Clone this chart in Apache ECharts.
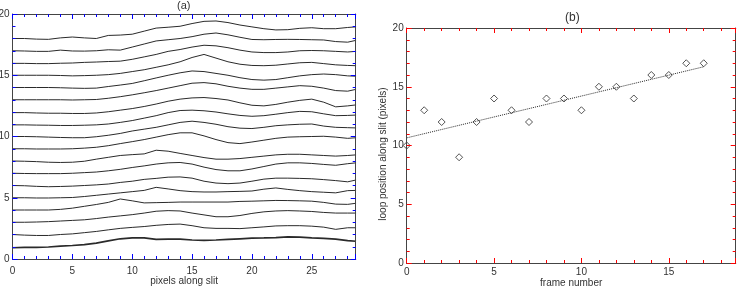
<!DOCTYPE html>
<html>
<head>
<meta charset="utf-8">
<script src="https://cdn.jsdelivr.net/npm/echarts@6.0.0/dist/echarts.min.js"></script>
<style>
html, body { margin: 0; padding: 0; background: #fff; }
#wrap { position: relative; width: 741px; height: 286px; }
#chart-a { position: absolute; left: 0; top: 0; width: 370px; height: 286px; }
#chart-b { position: absolute; left: 370px; top: 0; width: 371px; height: 286px; }
</style>
</head>
<body>
<div id="wrap"><div id="chart-a"></div><div id="chart-b"></div></div>
<script>
// panel (a): intensity profiles along the slit, one per frame, offset by frame
const pixelX = [0,1,2,3,4,5,6,7,8,9,10,11,12,13,14,15,16,17,18,19,20,21,22,23,24,25,26,27,28,28.7];

const prof01 = [0.92,0.95,0.95,0.98,1.05,1.1,1.18,1.3,1.48,1.65,1.72,1.72,1.6,1.62,1.62,1.55,1.52,1.55,1.6,1.65,1.7,1.72,1.75,1.8,1.78,1.72,1.68,1.62,1.5,1.45];
const prof02 = [2.0,1.95,1.92,1.92,2.0,2.05,2.15,2.25,2.38,2.5,2.58,2.65,2.75,2.82,2.85,2.72,2.55,2.5,2.5,2.48,2.55,2.62,2.7,2.72,2.72,2.68,2.6,2.42,2.55,2.55];
const prof03 = [3.0,3.0,3.02,3.05,3.1,3.15,3.2,3.3,3.42,3.52,3.62,3.75,3.9,3.95,3.92,3.75,3.6,3.45,3.45,3.55,3.72,3.85,3.92,3.95,3.92,3.88,3.8,3.75,3.75,3.75];
const prof04 = [4.0,4.0,4.0,4.0,4.05,4.15,4.3,4.45,4.62,4.9,4.75,4.58,4.6,4.62,4.65,4.65,4.65,4.65,4.65,4.7,4.72,4.75,4.78,4.77,4.75,4.72,4.62,4.48,4.46,4.55];
const prof05 = [5.0,5.0,4.98,4.98,5.0,5.02,5.1,5.2,5.3,5.4,5.5,5.6,5.85,5.72,5.58,5.5,5.47,5.47,5.5,5.52,5.55,5.7,5.8,5.68,5.58,5.5,5.45,5.4,5.58,5.6];
const prof06 = [6.0,5.98,5.93,5.9,5.92,5.95,6.0,6.05,6.12,6.25,6.35,6.5,6.58,6.68,6.7,6.6,6.35,6.2,6.15,6.2,6.35,6.52,6.6,6.6,6.58,6.55,6.48,6.4,6.3,6.45];
const prof07 = [7.0,6.98,6.97,6.97,6.97,7.0,7.05,7.1,7.2,7.32,7.47,7.6,7.75,7.85,7.88,7.75,7.5,7.3,7.2,7.2,7.35,7.55,7.75,7.85,7.85,7.8,7.72,7.65,7.78,7.85];
const prof08 = [8.0,7.98,7.95,7.9,7.88,7.9,7.98,8.15,8.3,8.45,8.52,8.58,8.88,8.8,8.62,8.45,8.28,8.15,8.15,8.2,8.3,8.4,8.5,8.55,8.55,8.5,8.45,8.4,8.45,8.5];
const prof09 = [9.0,9.0,8.98,8.98,8.98,9.0,9.05,9.12,9.25,9.42,9.58,9.75,9.95,10.15,10.3,10.3,10.05,9.75,9.5,9.42,9.55,9.7,9.85,9.95,9.98,10.0,10.02,9.95,9.85,9.9];
const prof10 = [10.0,10.0,9.98,9.95,9.92,9.9,9.9,9.98,10.1,10.25,10.45,10.6,10.75,10.95,11.15,11.25,11.15,11.0,10.8,10.68,10.65,10.75,10.88,10.95,11.0,11.02,10.85,10.75,10.72,10.7];
const prof11 = [10.95,10.95,10.93,10.92,10.9,10.9,10.92,10.95,11.02,11.15,11.3,11.5,11.7,11.95,12.12,12.15,12.1,12.0,11.85,11.72,11.65,11.7,11.82,11.95,12.05,12.02,11.85,11.7,11.72,11.75];
const prof12 = [11.95,11.95,11.92,11.9,11.9,11.88,11.88,11.92,12.02,12.15,12.28,12.45,12.65,12.88,13.05,13.15,13.18,13.1,12.98,12.75,12.55,12.5,12.62,12.8,12.95,13.05,12.8,12.42,12.5,12.58];
const prof13 = [13.0,13.0,13.0,13.0,13.0,12.98,13.0,13.02,13.12,13.25,13.4,13.57,13.75,13.95,14.15,14.35,14.4,14.3,14.1,13.95,13.85,13.85,13.95,14.05,14.15,14.1,13.95,13.75,13.7,13.85];
const prof14 = [14.0,14.0,14.0,14.0,13.98,13.95,13.93,13.95,14.08,14.2,14.33,14.55,14.78,15.0,15.2,15.35,15.3,15.15,15.0,14.8,14.65,14.6,14.65,14.8,14.95,15.05,15.1,15.05,14.95,14.92];
const prof15 = [15.0,15.0,15.0,15.0,14.98,14.95,14.97,15.0,15.05,15.15,15.3,15.45,15.65,15.85,16.1,16.45,16.7,16.4,16.1,15.9,15.8,15.78,15.82,15.92,16.02,16.05,15.95,15.85,15.8,15.78];
const prof16 = [15.97,15.97,15.95,15.95,15.98,16.0,16.05,16.08,16.12,16.15,16.3,16.5,16.7,16.95,17.1,17.3,17.45,17.4,17.25,17.05,16.9,16.85,16.85,16.9,17.0,17.02,17.0,16.95,16.9,16.95];
const prof17 = [17.0,16.98,16.95,16.95,17.05,16.98,16.97,17.0,17.08,17.05,17.3,17.55,17.8,17.9,18.0,18.15,18.35,18.45,18.3,18.1,17.92,17.9,17.92,17.93,17.92,17.9,17.88,17.75,17.7,17.85];
const prof18 = [18.0,18.0,17.95,17.93,18.05,18.12,18.05,18.0,18.25,18.28,18.35,18.6,18.85,18.92,19.0,19.22,19.4,19.43,19.3,19.1,18.95,18.8,18.7,18.72,18.83,18.88,18.8,18.8,18.9,18.95];

const profiles = [prof01,prof02,prof03,prof04,prof05,prof06,prof07,prof08,prof09,prof10,
                  prof11,prof12,prof13,prof14,prof15,prof16,prof17,prof18];

// panel (b): loop position per frame and the straight-line fit
const frameNumber = [0,1,2,3,4,5,6,7,8,9,10,11,12,13,14,15,16,17];
const loopPos     = [10,13,12,9,12,14,13,12,14,14,13,15,15,14,16,16,17,17];
const fitX = [0, 17];
const fitY = [10.65, 16.7];

const majorTicks = [0, 5, 10, 15, 20, 25];

const INK = '#2a2a2a';
const AXIS = '#444';
const FONT = 'Liberation Sans';
const nameStyle = { color: '#333', fontFamily: FONT, fontSize: 10 };

// x axes: one axis carries the long ticks every 5, a twin carries the short ones every 1
function xAx(pos, max, step, tickLen, labels, margin, tc, extra) {
    return Object.assign({
        type: 'value', position: pos, min: 0, max: max, interval: step, z: 10,
        axisLine: { show: true, onZero: false, lineStyle: { color: AXIS, width: 1 } },
        axisTick: { show: true, inside: true, length: tickLen, lineStyle: { color: tc, width: 1 } },
        axisLabel: {
            show: labels, color: '#333', fontFamily: FONT, fontSize: 10, margin: margin,
            formatter: function (v) { return majorTicks.indexOf(v) >= 0 ? String(v) : ''; }
        },
        splitLine: { show: false }
    }, extra || {});
}

function yAx(pos, labels, tc, extra) {
    return Object.assign({
        type: 'value', position: pos, min: 0, max: 20, interval: 5, z: 10,
        axisLine: { show: true, onZero: false, lineStyle: { color: AXIS, width: 1 } },
        axisTick: { show: true, inside: true, length: 5, lineStyle: { color: tc, width: 1 } },
        minorTick: { show: true, splitNumber: 5, length: 3, lineStyle: { color: tc, width: 1 } },
        axisLabel: { show: labels, color: '#333', fontFamily: FONT, fontSize: 10, margin: 3 },
        splitLine: { show: false },
        minorSplitLine: { show: false }
    }, extra || {});
}

const seriesA = profiles.map(function (p, i) {
    return {
        type: 'line',
        data: pixelX.map(function (x, j) { return [x, p[j]]; }),
        symbol: 'none', silent: true,
        lineStyle: { color: INK, width: i === 0 ? 1.7 : 1 }
    };
});

const TA = '#0000ff';
const chartA = echarts.init(document.getElementById('chart-a'));
chartA.setOption({
    animation: false,
    backgroundColor: '#fff',
    textStyle: { fontFamily: FONT },
    grid: { left: 12.5, top: 14, width: 343.2, height: 245, outerBoundsMode: 'none' },
    xAxis: [
        xAx('bottom', 28.67, 5, 5, true, 7, TA, {
            name: 'pixels along slit', nameLocation: 'middle', nameGap: 17,
            nameMoveOverlap: false, nameTextStyle: nameStyle
        }),
        xAx('bottom', 28.67, 1, 3, false, 7, TA),
        xAx('top', 28.67, 5, 5, false, 7, TA),
        xAx('top', 28.67, 1, 3, false, 7, TA)
    ],
    yAxis: [yAx('left', true, TA), yAx('right', false, TA)],
    graphic: [
        { type: 'text', left: 177, top: 0, style: { text: '(a)', font: '11px ' + FONT, fill: '#333' } }
    ],
    series: seriesA
});

const TB = '#ff0000';
const chartB = echarts.init(document.getElementById('chart-b'));
chartB.setOption({
    animation: false,
    backgroundColor: '#fff',
    textStyle: { fontFamily: FONT },
    grid: { left: 36.7, top: 28, width: 329, height: 235, outerBoundsMode: 'none' },
    xAxis: [
        xAx('bottom', 18.83, 5, 5, true, 4, TB, {
            name: 'frame number', nameLocation: 'middle', nameGap: 15,
            nameMoveOverlap: false, nameTextStyle: nameStyle
        }),
        xAx('bottom', 18.83, 1, 3, false, 4, TB),
        xAx('top', 18.83, 5, 5, false, 4, TB),
        xAx('top', 18.83, 1, 3, false, 4, TB)
    ],
    yAxis: [yAx('left', true, TB), yAx('right', false, TB)],
    graphic: [
        { type: 'text', left: 195, top: 12, style: { text: '(b)', font: '12px ' + FONT, fill: '#333' } },
        {
            type: 'text', x: 13.5, y: 154, rotation: Math.PI / 2,
            style: {
                text: 'loop position along slit (pixels)', font: '10px ' + FONT, fill: '#333',
                textAlign: 'center', textVerticalAlign: 'middle'
            }
        }
    ],
    series: [
        {
            type: 'scatter',
            data: frameNumber.map(function (f, j) { return [f, loopPos[j]]; }),
            symbol: 'diamond', symbolSize: 7,
            itemStyle: { color: 'rgba(255,255,255,0)', borderColor: INK, borderWidth: 1 }
        },
        {
            type: 'line',
            data: fitX.map(function (x, j) { return [x, fitY[j]]; }),
            symbol: 'none', silent: true,
            lineStyle: { color: INK, width: 1, type: 'dotted' }
        }
    ]
});
</script>
</body>
</html>
